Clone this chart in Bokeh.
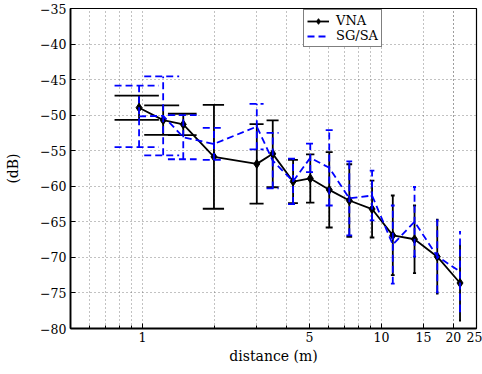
import numpy as np
from bokeh.plotting import figure
from bokeh.models import (ColumnDataSource, FixedTicker, CustomJSTickFormatter, Legend,
                          LegendItem, Range1d)
from bokeh.embed import file_html
from bokeh.resources import INLINE

# ---- data ----
distance = [0.968, 1.221, 1.482, 1.992, 3.01, 3.51, 4.27, 5.04, 6.05, 7.34, 9.14, 11.16, 13.76, 17.13, 21.33]
vna_db = [-48.95, -50.7, -51.3, -55.86, -56.85, -55.44, -59.33, -58.9, -60.5, -62.0, -63.2, -66.9, -67.45, -69.9, -73.6]
vna_err = [1.7, 2.07, 1.5, 7.3, 5.6, 4.7, 3.05, 3.4, 5.3, 5.1, 4.0, 5.6, 4.75, 5.2, 5.3]
sgsa_db = [-50.17, -50.1, -53.1, -54.05, -51.6, -56.4, -59.3, -56.0, -57.4, -61.7, -61.3, -68.2, -65.0, -69.85, -72.0]
sgsa_err = [4.33, 5.55, 3.1, 2.25, 3.2, 3.9, 3.2, 2.0, 5.3, 5.2, 3.5, 5.5, 4.9, 5.05, 5.6]

x_ticks = [1, 5, 10, 15, 20, 25]
x_minor = [0.6, 0.7, 0.8, 0.9, 2, 3, 4, 6, 7, 8, 9, 20]
y_ticks = [-80, -75, -70, -65, -60, -55, -50, -45, -40, -35]

FONT = "DejaVu Serif"
BLUE = "#0000ff"

x = np.array(distance)
tee = (x.max() - x.min()) / 100.0


def make_source(yv, ev):
    y = np.array(yv)
    e = np.array(ev)
    return ColumnDataSource(dict(x=x, y=y, lo=y - e, hi=y + e, xl=x - tee, xr=x + tee))


src_vna = make_source(vna_db, vna_err)
src_sg = make_source(sgsa_db, sgsa_err)

p = figure(frame_width=406, frame_height=320, x_axis_type="log",
           x_range=Range1d(0.5, 25), y_range=Range1d(-80, -35),
           output_backend="svg", toolbar_location=None,
           min_border_left=70, min_border_right=6, min_border_top=8, min_border_bottom=46,
           background_fill_color="white", border_fill_color="white")
p.outline_line_color = "black"
p.outline_line_width = 1.2

xt = FixedTicker(ticks=x_ticks, minor_ticks=x_minor)
yt = FixedTicker(ticks=y_ticks, minor_ticks=[])
yfmt = CustomJSTickFormatter(code="return (tick < 0 ? '\u2212' : '') + Math.abs(tick).toString();")
xfmt = CustomJSTickFormatter(code="return tick.toString();")

for ax in p.xaxis:
    ax.ticker = xt
    ax.formatter = xfmt
for ax in p.yaxis:
    ax.ticker = yt
    ax.formatter = yfmt

for ax in list(p.xaxis) + list(p.yaxis):
    ax.major_tick_in = 5
    ax.major_tick_out = 0
    ax.minor_tick_in = 3
    ax.minor_tick_out = 0
    ax.axis_line_width = 1.8
    ax.major_tick_line_width = 1
    ax.major_label_text_font = FONT
    ax.major_label_text_font_size = "12.5px"
    ax.major_label_text_color = "black"
    ax.axis_label_text_font = FONT
    ax.axis_label_text_font_size = "14px"
    ax.axis_label_text_font_style = "normal"
    ax.axis_label_text_color = "black"

p.xaxis.axis_label = "distance (m)"
p.yaxis.axis_label = "(dB)"
p.xaxis.major_label_standoff = 3
p.xaxis.axis_label_standoff = 3
p.yaxis.major_label_standoff = 4
p.yaxis.axis_label_standoff = 16

# grid
p.xgrid.ticker = xt
p.ygrid.ticker = yt
for g in (p.xgrid, p.ygrid):
    g.grid_line_color = "#666666"
    g.grid_line_dash = "1 3"
    g.grid_line_width = 1
    g.grid_line_alpha = 0.8
p.xgrid.minor_grid_line_color = "#666666"
p.xgrid.minor_grid_line_dash = "1 3"
p.xgrid.minor_grid_line_alpha = 0.8

LW = 1.8
# VNA (black)
l_vna = p.line("x", "y", source=src_vna, line_color="black", line_width=LW)
p.segment("x", "lo", "x", "hi", source=src_vna, line_color="black", line_width=LW)
p.segment("xl", "lo", "xr", "lo", source=src_vna, line_color="black", line_width=LW)
p.segment("xl", "hi", "xr", "hi", source=src_vna, line_color="black", line_width=LW)
m_vna = p.scatter("x", "y", source=src_vna, marker="diamond", size=9,
                  fill_color="black", line_color="black", line_width=1)

# SG/SA (blue dashed)
DASH = "7 4"
l_sg = p.line("x", "y", source=src_sg, line_color=BLUE, line_width=LW, line_dash=DASH)
p.segment("x", "lo", "x", "hi", source=src_sg, line_color=BLUE, line_width=LW, line_dash=DASH)
p.segment("xl", "lo", "xr", "lo", source=src_sg, line_color=BLUE, line_width=LW, line_dash=DASH)
p.segment("xl", "hi", "xr", "hi", source=src_sg, line_color=BLUE, line_width=LW, line_dash=DASH)

legend = Legend(items=[LegendItem(label="VNA", renderers=[l_vna, m_vna]),
                       LegendItem(label="SG/SA", renderers=[l_sg])],
                location=(233, 281))
legend.border_line_color = "black"
legend.border_line_width = 1.2
legend.background_fill_color = "white"
legend.background_fill_alpha = 1
legend.label_text_font = FONT
legend.label_text_font_size = "13px"
legend.label_text_color = "black"
legend.glyph_width = 22
legend.glyph_height = 14
legend.label_height = 14
legend.label_standoff = 7
legend.padding = 3
legend.spacing = 0
legend.margin = 0
p.add_layout(legend)

open("out.html", "w").write(file_html(p, INLINE))
